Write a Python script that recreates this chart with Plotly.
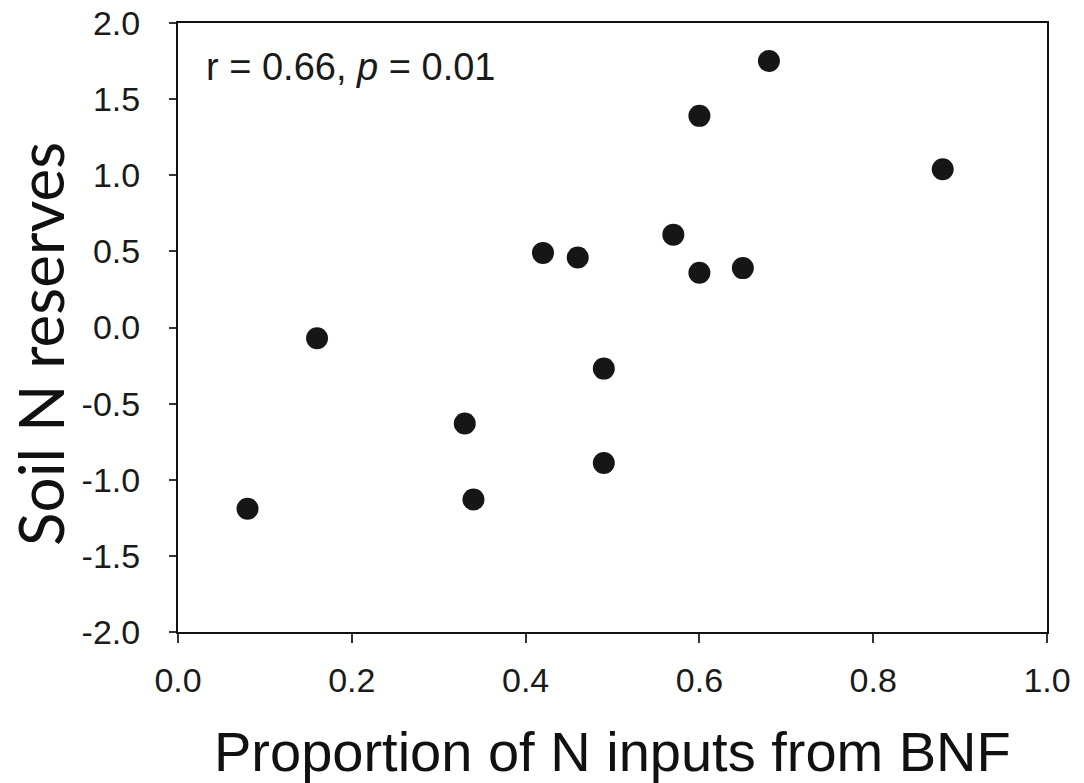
import plotly.graph_objects as go

# Data
bnf_proportion = [0.08, 0.16, 0.33, 0.34, 0.42, 0.46, 0.49, 0.49, 0.57, 0.60, 0.60, 0.65, 0.68, 0.88]
soil_n_reserves = [-1.19, -0.07, -0.63, -1.13, 0.49, 0.46, -0.27, -0.89, 0.61, 1.39, 0.36, 0.39, 1.75, 1.04]

x_tick_vals = [0.0, 0.2, 0.4, 0.6, 0.8, 1.0]
x_tick_text = ["0.0", "0.2", "0.4", "0.6", "0.8", "1.0"]
y_tick_vals = [-2.0, -1.5, -1.0, -0.5, 0.0, 0.5, 1.0, 1.5, 2.0]
y_tick_text = ["-2.0", "-1.5", "-1.0", "-0.5", "0.0", "0.5", "1.0", "1.5", "2.0"]

x_title = "Proportion of N inputs from BNF"
y_title = "Soil N reserves"
stat_text = "r = 0.66, <i>p</i> = 0.01"

fig = go.Figure()
fig.add_trace(go.Scatter(
    x=bnf_proportion, y=soil_n_reserves, mode="markers",
    marker=dict(size=22, color="#161616", line=dict(width=0)),
    showlegend=False,
))

tick_font = dict(family="Liberation Sans, Arial", size=34, color="#1a1a1a")

fig.update_xaxes(
    range=[0, 1], tickvals=x_tick_vals, ticktext=x_tick_text,
    showgrid=False, zeroline=False, automargin=False,
    showline=True, linecolor="#111", linewidth=2, mirror=True,
    ticks="outside", ticklen=9, tickwidth=1.5, tickcolor="#333",
    tickfont=tick_font, ticklabelstandoff=8,
)
fig.update_yaxes(
    range=[-2, 2], tickvals=y_tick_vals, ticktext=y_tick_text,
    showgrid=False, zeroline=False, automargin=False,
    showline=True, linecolor="#111", linewidth=2, mirror=True,
    ticks="outside", ticklen=7, tickwidth=1.5, tickcolor="#333",
    tickfont=tick_font, ticklabelstandoff=22,
)

fig.add_annotation(
    text=stat_text, xref="paper", yref="paper", x=0.03, y=0.928,
    xanchor="left", yanchor="middle", showarrow=False,
    font=dict(family="Liberation Sans, Arial", size=38, color="#1a1a1a"),
)
fig.add_annotation(
    text=x_title, xref="paper", yref="paper", x=0.5, y=-0.197,
    xanchor="center", yanchor="middle", showarrow=False,
    font=dict(family="Liberation Sans, Arial", size=56, color="#111"),
)
fig.add_annotation(
    text=y_title, xref="paper", yref="paper", x=-0.1595, y=0.4737,
    xanchor="center", yanchor="middle", textangle=-90, showarrow=False,
    font=dict(family="Lato", size=62, color="#111"),
)

fig.update_layout(
    width=1084, height=783,
    margin=dict(l=178, r=37, t=23, b=151, autoexpand=False),
    plot_bgcolor="white", paper_bgcolor="white",
)

fig.write_html("out.html")
